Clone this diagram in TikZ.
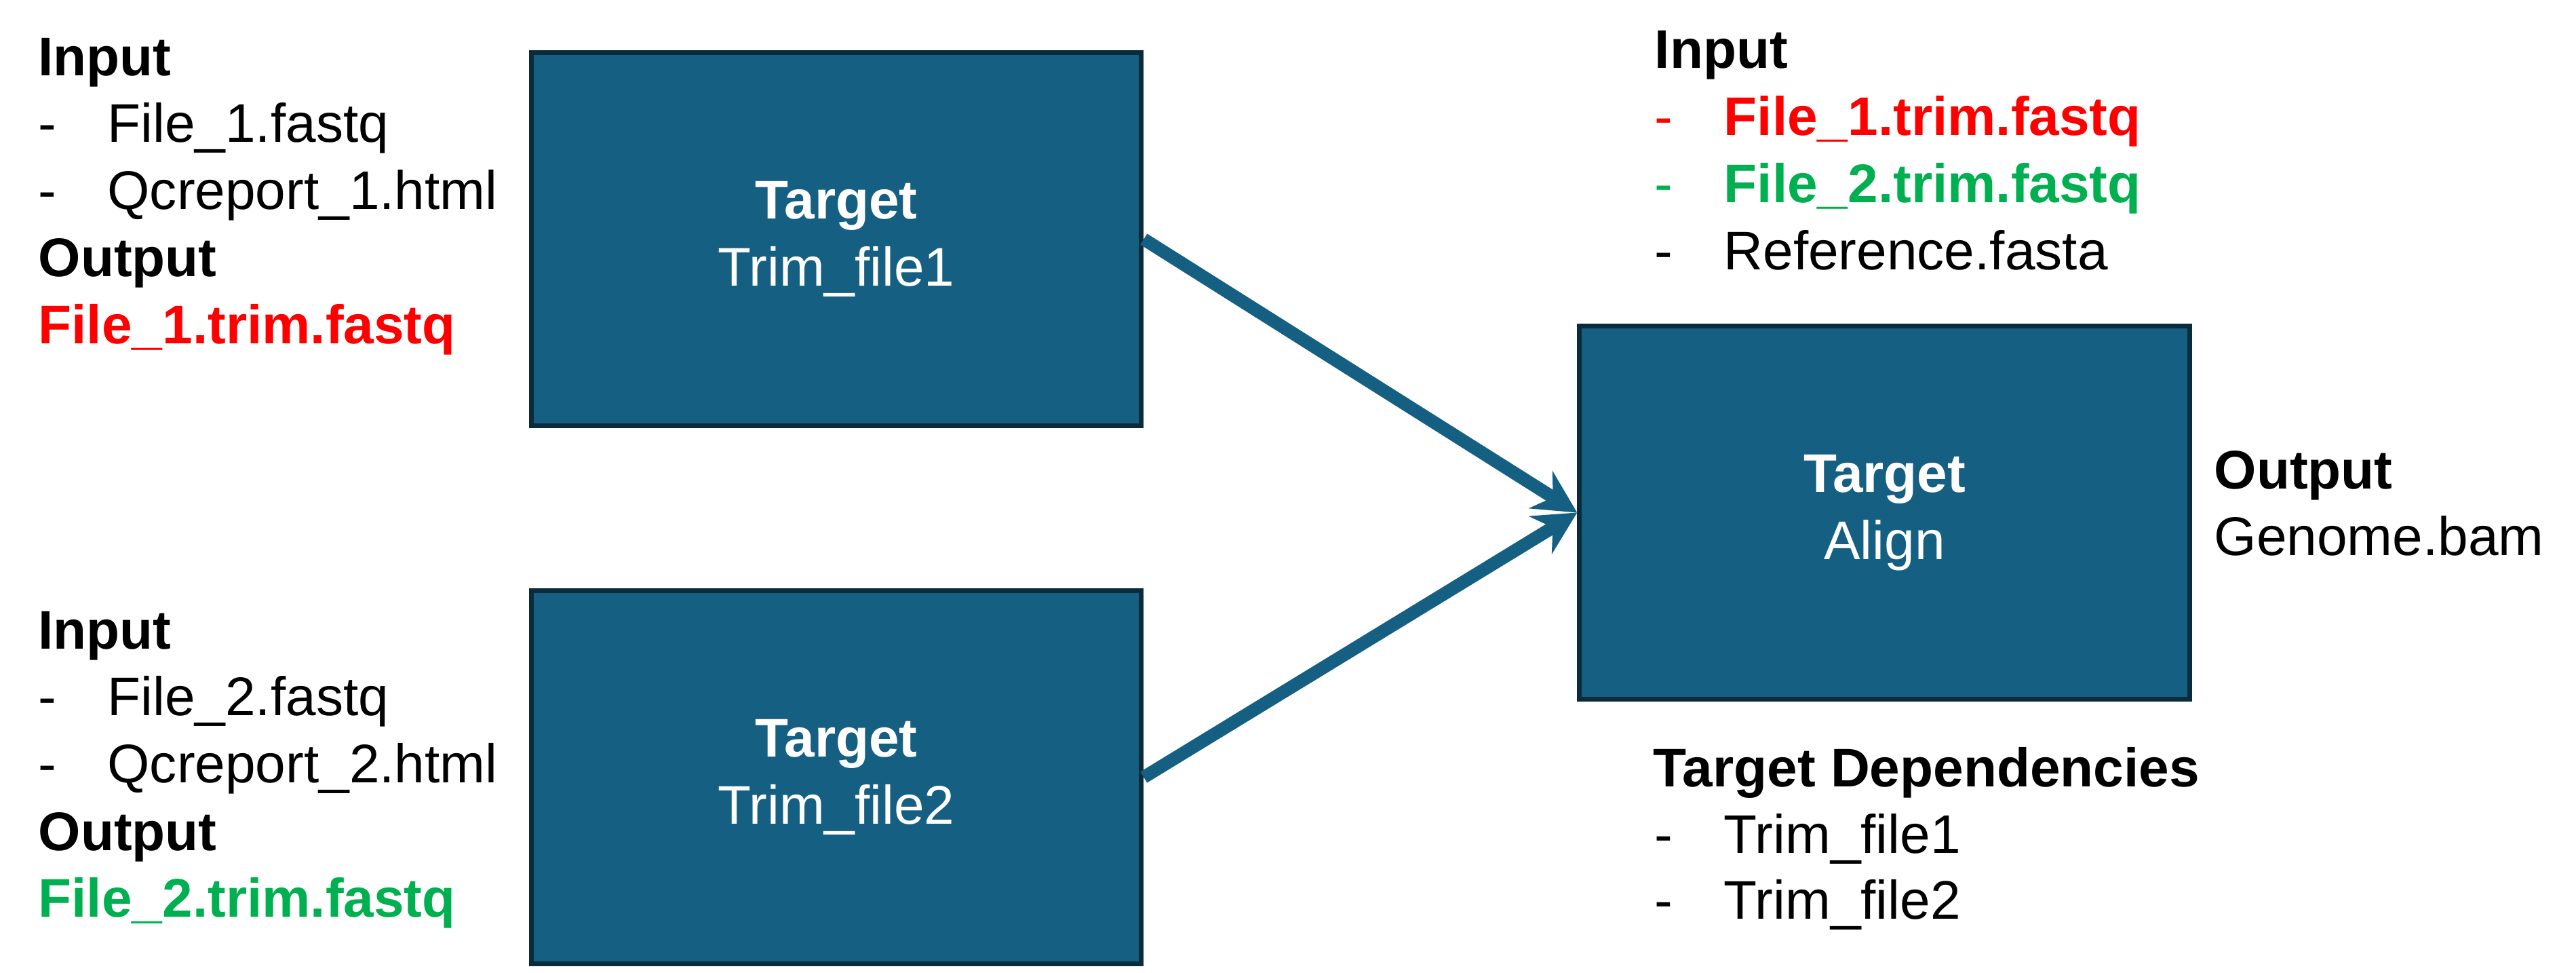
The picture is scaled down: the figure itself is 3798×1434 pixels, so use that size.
\documentclass[tikz,border=0pt]{standalone}
\usepackage{fontspec}
\setmainfont{Liberation Sans}
\usepackage{tikz}
\usetikzlibrary{arrows.meta, positioning}
\definecolor{taskblue}{HTML}{156082}
\definecolor{taskedge}{HTML}{0A2B3B}
\definecolor{outred}{HTML}{FF0000}
\definecolor{outgreen}{HTML}{00B050}
\newcommand{\fileitem}[1]{\makebox[29pt][l]{-}#1}
\tikzset{
	every node/.style={
		align=center,
		font=\fontsize{22.8}{28.1}\selectfont,
	},
	target/.style={
		draw=taskedge, line width=0.07cm, fill=taskblue, text=white,
		minimum width=8.99cm, minimum height=5.50cm, inner sep=0pt,
	},
	lbl/.style={anchor=base west, inner sep=0pt, align=left},
	dep/.style={
		draw=taskblue, line width=0.19cm,
		-{Stealth[length=0.64cm, width=0.66cm, inset=0.22cm, line width=0pt]},
	},
}

\begin{document}
\begin{tikzpicture}[x=0.01cm, y=-0.01cm]
        \useasboundingbox (0,0) rectangle (3798,1434);
        % targets
        \node[target] (trim1) at (1233,352.5) {\textbf{Target}\\Trim\_file1};
        \node[target] (trim2) at (1233,1145.5) {\textbf{Target}\\Trim\_file2};
        \node[target] (align) at (2778.5,755.5) {\textbf{Target}\\Align};
        % file lists, first trim
        \node[lbl] (in1) at (56,112) {\textbf{Input}};
        \node[lbl] (in1a) at (56,210) {\fileitem{File\_1.fastq}};
        \node[lbl] (in1b) at (56,309) {\fileitem{Qcreport\_1.html}};
        \node[lbl] (out1) at (56,408) {\textbf{Output}};
        \node[lbl, text=outred] (out1a) at (56,507) {\textbf{File\_1.trim.fastq}};
        % second trim
        \node[lbl] (in2) at (56,956) {\textbf{Input}};
        \node[lbl] (in2a) at (56,1054) {\fileitem{File\_2.fastq}};
        \node[lbl] (in2b) at (56,1153) {\fileitem{Qcreport\_2.html}};
        \node[lbl] (out2) at (56,1253) {\textbf{Output}};
        \node[lbl, text=outgreen] (out2a) at (56,1351) {\textbf{File\_2.trim.fastq}};
        % align
        \node[lbl] (in3) at (2439,101) {\textbf{Input}};
        \node[lbl, text=outred] (in3a) at (2439,200) {\fileitem{\textbf{File\_1.trim.fastq}}};
        \node[lbl, text=outgreen] (in3b) at (2439,299) {\fileitem{\textbf{File\_2.trim.fastq}}};
        \node[lbl] (in3c) at (2439,398) {\fileitem{Reference.fasta}};
        \node[lbl] (out3) at (3264,720) {\textbf{Output}};
        \node[lbl] (out3a) at (3264,818) {Genome.bam};
        \node[lbl] (deps) at (2437,1159) {\textbf{Target Dependencies}};
        \node[lbl] (depsa) at (2439,1257) {\fileitem{Trim\_file1}};
        \node[lbl] (depsb) at (2439,1354) {\fileitem{Trim\_file2}};
        % dependencies
        \draw[dep] (trim1.east) -- (align.west);
        \draw[dep] (trim2.east) -- (align.west);
\end{tikzpicture}
\end{document}
